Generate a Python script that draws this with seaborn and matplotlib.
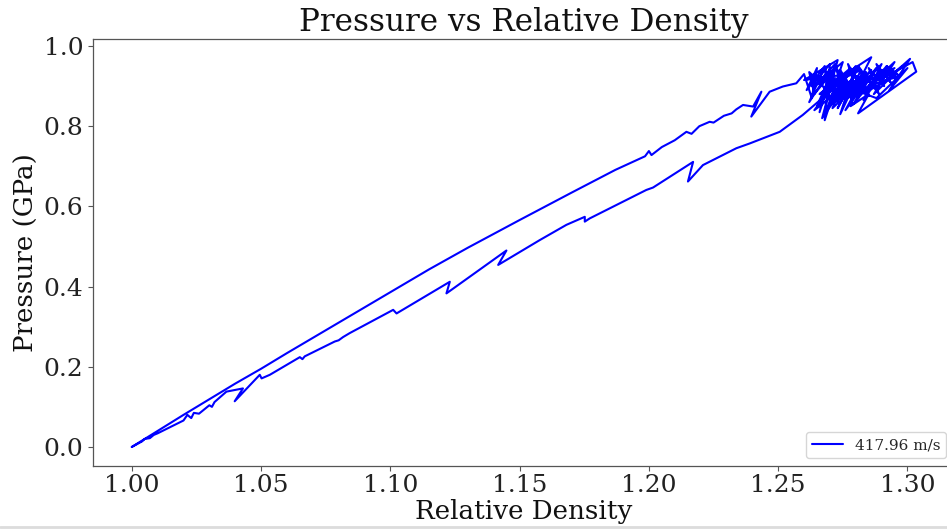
import numpy as np
import pandas as pd
import matplotlib
matplotlib.use("Agg")
import matplotlib.pyplot as plt
import seaborn as sns
from matplotlib.lines import Line2D

# ---- data: loading branch (upper), oscillating cluster, unloading branch (lower)
upper_x = [1.000, 1.010, 1.020, 1.030, 1.040, 1.050, 1.060, 1.070, 1.085, 1.100,
           1.115, 1.130, 1.150, 1.170, 1.187, 1.1985, 1.2000, 1.2010, 1.205, 1.210,
           1.2145, 1.2165, 1.2195, 1.2235, 1.2250, 1.2290, 1.2320, 1.2338, 1.2364,
           1.2403, 1.2435, 1.2396, 1.2467, 1.2518, 1.2570]
upper_y = [0.000, 0.040, 0.080, 0.119, 0.158, 0.195, 0.234, 0.272, 0.329, 0.386,
           0.443, 0.497, 0.566, 0.634, 0.691, 0.725, 0.738, 0.728, 0.748, 0.765,
           0.786, 0.781, 0.800, 0.811, 0.809, 0.826, 0.832, 0.842, 0.853,
           0.849, 0.886, 0.824, 0.886, 0.899, 0.907]

cluster_x = [1.2600, 1.2630, 1.2650, 1.2610, 1.2680, 1.2620, 1.2700, 1.2660, 1.2720, 1.2640,
             1.2750, 1.2690, 1.2770, 1.2600, 1.2730, 1.2670, 1.2760, 1.2710, 1.2800, 1.2740,
             1.2820, 1.2700, 1.2860, 1.2780, 1.2840, 1.2760, 1.2880, 1.2810, 1.2900, 1.2830,
             1.2920, 1.2850, 1.2950, 1.2870, 1.2980, 1.2900, 1.3010, 1.2930, 1.3000, 1.2880,
             1.2650, 1.2700, 1.2680, 1.2730, 1.2700, 1.2760, 1.2720, 1.2790, 1.2740, 1.2810,
             1.2770, 1.2830, 1.2790, 1.2850, 1.2810, 1.2870, 1.2830, 1.2890, 1.2850, 1.2910,
             1.2880, 1.2940, 1.2900, 1.2960, 1.2920, 1.2970, 1.2870, 1.2800, 1.2750, 1.2690,
             1.2640, 1.2620, 1.2670, 1.2710, 1.2660, 1.2750, 1.2700, 1.2780, 1.2730, 1.2790,
             1.2740, 1.2820, 1.2760, 1.2840, 1.2780, 1.2860, 1.2810, 1.2880,
             1.2960, 1.2840, 1.2900, 1.2790, 1.2860, 1.2740, 1.2810, 1.2690, 1.2770, 1.2650,
             1.2720, 1.2630, 1.2700, 1.2680, 1.2730, 1.2660, 1.2780, 1.2720, 1.2830, 1.2760,
             1.2870, 1.2820, 1.2950, 1.2890, 1.3020, 1.3034, 1.2809, 1.2850, 1.2780, 1.2800,
             1.2710, 1.2740, 1.2640, 1.2680, 1.2595]
cluster_y = [0.930, 0.870, 0.945, 0.890, 0.950, 0.860, 0.940, 0.835, 0.955, 0.900,
             0.960, 0.845, 0.930, 0.915, 0.965, 0.820, 0.905, 0.880, 0.950, 0.830,
             0.940, 0.905, 0.972, 0.870, 0.935, 0.840, 0.945, 0.890, 0.955, 0.865,
             0.950, 0.900, 0.960, 0.880, 0.950, 0.905, 0.968, 0.890, 0.945, 0.870,
             0.925, 0.870, 0.945, 0.860, 0.930, 0.875, 0.950, 0.880, 0.940, 0.870,
             0.955, 0.885, 0.935, 0.875, 0.950, 0.895, 0.930, 0.880, 0.945, 0.900,
             0.955, 0.905, 0.940, 0.915, 0.950, 0.925, 0.905, 0.925, 0.895, 0.920,
             0.880, 0.935, 0.905, 0.940, 0.865, 0.915, 0.850, 0.905, 0.845, 0.915,
             0.880, 0.925, 0.865, 0.915, 0.890, 0.940, 0.900, 0.925,
             0.930, 0.885, 0.940, 0.855, 0.925, 0.870, 0.945, 0.885, 0.935, 0.850,
             0.920, 0.900, 0.955, 0.815, 0.915, 0.880, 0.945, 0.860, 0.915, 0.895,
             0.930, 0.905, 0.945, 0.915, 0.960, 0.936, 0.832, 0.880, 0.850, 0.900,
             0.845, 0.890, 0.840, 0.875, 0.828]

lower_x = [1.2506, 1.2390, 1.2338, 1.2209, 1.2151, 1.2171, 1.2016, 1.1990, 1.1771, 1.1752,
           1.1752, 1.1681, 1.1578, 1.1417, 1.1449, 1.1217, 1.1230, 1.1024, 1.1011, 1.0843,
           1.0817, 1.0800, 1.0785, 1.0669, 1.0660, 1.0650, 1.0534, 1.0502, 1.0495, 1.0398,
           1.0430, 1.0366, 1.0320, 1.0310, 1.0300, 1.0260, 1.0240, 1.0230, 1.0215, 1.0200,
           1.0150, 1.0100, 1.0085, 1.0070, 1.0050, 1.0040, 1.0000]
lower_y = [0.786, 0.757, 0.745, 0.703, 0.662, 0.711, 0.647, 0.641, 0.570, 0.562,
           0.574, 0.554, 0.516, 0.454, 0.490, 0.383, 0.412, 0.333, 0.342, 0.284,
           0.274, 0.266, 0.263, 0.226, 0.219, 0.224, 0.180, 0.171, 0.180, 0.114,
           0.146, 0.138, 0.112, 0.100, 0.104, 0.083, 0.085, 0.072, 0.080, 0.066,
           0.050, 0.034, 0.030, 0.022, 0.020, 0.014, 0.000]

legend_label = "417.96 m/s"
title_text = "Pressure vs Relative Density"
x_label = "Relative Density"
y_label = "Pressure (GPa)"

rel_density = upper_x + cluster_x + lower_x
pressure = upper_y + cluster_y + lower_y
df = pd.DataFrame({"rho": rel_density, "p": pressure, "step": np.arange(len(rel_density))})

sns.set_theme(style="ticks")
plt.rcParams["font.family"] = ["DejaVu Serif"]

W, H = 947, 529
fig = plt.figure(figsize=(W / 100, H / 100), dpi=100)
left, right, top, bottom = 93, 954, 39, 466
ax = fig.add_axes([left / W, 1 - bottom / H, (right - left) / W, (bottom - top) / H])

sns.lineplot(data=df, x="rho", y="p", sort=False, estimator=None, color="blue",
             linewidth=1.5, label=legend_label, ax=ax)

ax.set_xlim(0.985, 1.318)
ax.set_ylim(-0.0475, 1.0175)
ax.set_xticks([1.00, 1.05, 1.10, 1.15, 1.20, 1.25, 1.30])
ax.set_xticklabels(["1.00", "1.05", "1.10", "1.15", "1.20", "1.25", "1.30"])
ax.set_yticks([0.0, 0.2, 0.4, 0.6, 0.8, 1.0])
ax.set_yticklabels(["0.0", "0.2", "0.4", "0.6", "0.8", "1.0"])
ax.tick_params(labelsize=18, colors="#555555", labelcolor="#222222",
               length=3.5, width=0.8, pad=3.5)
ax.tick_params(axis="x", pad=2.0)
for s in ax.spines.values():
    s.set_color("#555555")
    s.set_linewidth(0.9)

ax.set_title(title_text, fontsize=22.3, color="#111111")
ax.set_xlabel(x_label, fontsize=18.8, color="#111111", va="baseline")
ax.xaxis.set_label_coords(0.5, (bottom - 519) / (bottom - top))
ax.set_ylabel(y_label, fontsize=18.8, color="#111111")
ax.yaxis.set_label_coords((39 - left) / (right - left), 0.5)
ax.legend(loc="lower right", fontsize=11)

fig.add_artist(Line2D([0, 1], [0.003, 0.003], transform=fig.transFigure,
                      color="#dcdcdc", linewidth=2))

fig.savefig("out.png", dpi=100)
